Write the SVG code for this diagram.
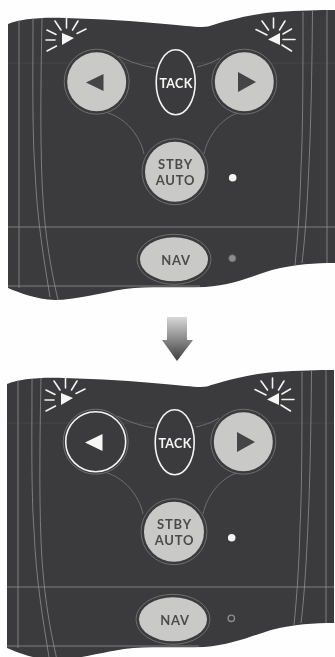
<svg xmlns="http://www.w3.org/2000/svg" width="335" height="657" viewBox="0 0 335 657">
<style>
.panel{fill:#3a3a3c}
.ln{fill:none;stroke:#8f8f8f;stroke-width:.8}
.faint{fill:none;stroke:#4d4d4e;stroke-width:.8}
.ring{fill:none;stroke:#6f6f70;stroke-width:1}
.btn{fill:#c9c9c7}
.on{fill:#3a3a3c;stroke:#f4f4f2;stroke-width:1.6}
.ray{stroke:#f2f2f0;stroke-width:1.6;stroke-linecap:round;fill:none}
.wh{fill:#f6f6f4}
.dk{fill:#444446}
text{font-family:Lato,"Open Sans",sans-serif;font-weight:700;text-anchor:middle}
.lbl{fill:#4c4c4c;font-size:13px;letter-spacing:.8px}
.tack{fill:#f6f6f4;font-size:12.5px;letter-spacing:.3px}
</style>
<defs>
<linearGradient id="g" x1="0" y1="0" x2="0" y2="1"><stop offset="0" stop-color="#d8d8d8"/><stop offset="1" stop-color="#3c3c3c"/></linearGradient>
<filter id="b" x="-5%" y="-5%" width="110%" height="110%"><feGaussianBlur stdDeviation=".5"/></filter>
<g id="base">
<path class="panel" d="M8 24C20 19 40 17 65 18C100 19 135 21 165 24C185 25.500 200 28 208 26.500C225 21 250 14 277 12C300 10.500 320 10 335 10V263C315 263 295 264 272 270C250 277 232 285 205 287C175 288 150 286 125 289C100 293 75 300 55 300C35 299 20 293 8 288Z"/>
<path class="faint" d="M8 63H335"/>
<path class="ln" d="M8 227H335M8 286H200M19 20V288M33 18C33 70 32 130 35 170C37 220 44 260 50 297M42 18C41 70 40 130 42 180C44 230 50 265 58 300M303 12C303 70 303 130 301 167C300 205 298 235 295 265M312.500 11C312 70 311 110 310 140C308 190 306 230 302 263M327 10V263"/>
<path class="ring" d="M118 56C128 61 142 66 155 68M197 67C205 65 212 63 220 58M108 113C125 118 140 135 144 154M238 113C222 118 208 135 204 154"/>
<ellipse class="ring" cx="174" cy="259.300" rx="37" ry="25"/>
<circle class="ring" cx="175" cy="171.700" r="33"/>
<circle class="ring" cx="244.300" cy="81.700" r="32.500"/>
<circle class="ring" cx="96.700" cy="81.700" r="32.500"/>
<circle class="btn" cx="244.300" cy="81.700" r="29.500"/>
<path class="dk" d="M238 72L256 82L238 92Z"/>
<ellipse class="on" cx="175.700" cy="82.300" rx="19.500" ry="32.500"/>
<text class="tack" x="176" y="88">TACK</text>
<circle class="btn" cx="175" cy="171.700" r="30"/>
<text class="lbl" x="175.500" y="169">STBY</text>
<text class="lbl" x="175.500" y="185">AUTO</text>
<ellipse class="btn" cx="174" cy="259.300" rx="34" ry="22"/>
<text class="lbl" x="176" y="264.500">NAV</text>
<circle class="wh" cx="232.700" cy="177.700" r="3.800"/>
<path class="wh" d="M62 33L74 38L62 45Z"/>
<path class="ray" d="M46 40H55M47 30L56 34.500M55 21L61 30M66.500 18V28M78 21L72.500 30M86 29L77 33.500M56.500 46L47 51"/>
<path class="wh" d="M280 33L268 39.500L280 45Z"/>
<path class="ray" d="M256 29.500L267 35M262 21L268.500 30M273.500 18V28M285 21L279.500 30M291.500 29L283 34M295 39.500H283M291.500 51L282 45"/>
</g>
</defs>
<rect width="335" height="657" fill="#fefefe"/>
<g filter="url(#b)">
<g id="panel-top">
<use href="#base"/>
<circle class="btn" cx="96.700" cy="81.700" r="29.500"/>
<path class="dk" d="M86 82.500L103.500 74V91Z"/>
<circle cx="232.300" cy="258.300" r="3.500" fill="#8d8d8c" stroke="#6c6c6c"/>
</g>
<g id="arrow">
<path fill="url(#g)" d="M167 317H187V340H193L177 361L162 340H167Z"/>
</g>
<g id="panel-bottom" transform="translate(-1 360)">
<use href="#base"/>
<circle class="on" cx="96.700" cy="81.700" r="30"/>
<path class="wh" d="M86 82.500L103.500 74V91Z"/>
<circle cx="232.300" cy="258.300" r="3.200" fill="#3a3a3c" stroke="#8d8d8c" stroke-width="1.400"/>
</g>
</g>
</svg>
